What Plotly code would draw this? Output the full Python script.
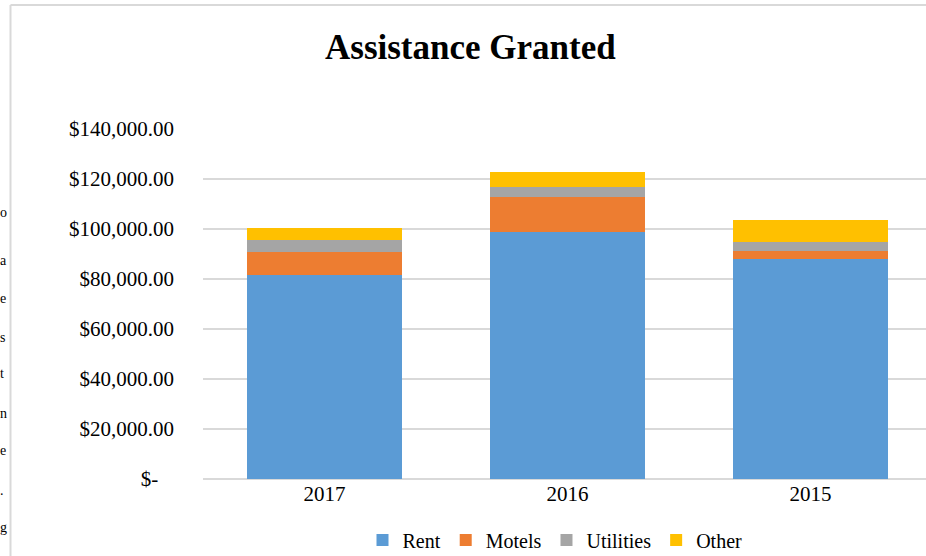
import plotly.graph_objects as go

years = ["2017", "2016", "2015"]
rent = [81500, 98700, 87900]
motels = [9300, 14300, 3300]
utilities = [4800, 3900, 3500]
other = [5000, 5900, 8800]

series_names = ["Rent", "Motels", "Utilities", "Other"]
series_values = [rent, motels, utilities, other]
colors = ["#5B9BD5", "#ED7D31", "#A5A5A5", "#FFC000"]

tick_vals = [0, 20000, 40000, 60000, 80000, 100000, 120000, 140000]
tick_text = ["$-\u00a0\u00a0\u00a0", "$20,000.00", "$40,000.00", "$60,000.00",
             "$80,000.00", "$100,000.00", "$120,000.00", "$140,000.00"]

# document characters visible at the left edge of the screenshot
edge_chars = ["o", "a", "e", "s", "t", "n", "e", ".", "g"]
edge_y_px = [212, 260, 298, 337, 373, 413, 450, 490, 527]

W, H = 926, 556
L, R, T, B = 203, 0, 129, 77
pw = W - L - R
ph = H - T - B

font = "Liberation Serif, Times New Roman, serif"

fig = go.Figure()
for name, vals, c in zip(series_names, series_values, colors):
    fig.add_trace(go.Bar(x=years, y=vals, name=name, marker_color=c,
                         marker_line_width=0))

def px_x(x):
    return (x - L) / pw

def px_y(y):
    return (H - B - y) / ph

annotations = [
    dict(text="<b>Assistance Granted</b>", x=px_x(470), y=px_y(47), xref="paper", yref="paper",
         showarrow=False, font=dict(family=font, size=35, color="#000000"),
         xanchor="center", yanchor="middle")
]
for ch, yp in zip(edge_chars, edge_y_px):
    annotations.append(dict(text=ch, x=px_x(-1), y=px_y(yp), xref="paper", yref="paper",
                            showarrow=False, xanchor="left", yanchor="middle",
                            borderpad=0,
                            font=dict(family=font, size=14, color="#000000")))

shapes = [
    dict(type="line", xref="paper", yref="paper", x0=px_x(10.5), x1=px_x(10.5),
         y0=px_y(5), y1=px_y(H + 5), line=dict(color="#d9d9d9", width=2)),
    dict(type="line", xref="paper", yref="paper", x0=px_x(10.5), x1=px_x(W + 5),
         y0=px_y(5), y1=px_y(5), line=dict(color="#d9d9d9", width=2)),
]

fig.update_layout(
    width=W, height=H,
    margin=dict(l=L, r=R, t=T, b=B, autoexpand=False),
    barmode="stack",
    bargap=0.36,
    plot_bgcolor="white",
    paper_bgcolor="white",
    font=dict(family=font, size=21, color="#000000"),
    showlegend=True,
    legend=dict(orientation="h", traceorder="normal", x=px_x(555), y=px_y(540),
                xanchor="center", yanchor="middle",
                font=dict(family=font, size=20, color="#000000"), itemwidth=30,
                tracegroupgap=0),
    annotations=annotations,
    shapes=shapes,
    xaxis=dict(range=[-0.5, 2.475], showgrid=False, showline=False, zeroline=False,
               ticks="", tickfont=dict(family=font, size=21)),
    yaxis=dict(range=[0, 140000], tickvals=tick_vals, ticktext=tick_text,
               showgrid=True, gridcolor="#d9d9d9", gridwidth=1.5,
               zeroline=True, zerolinecolor="#d9d9d9", zerolinewidth=1.5,
               showline=False, ticks="", ticklabelstandoff=28,
               tickfont=dict(family=font, size=21)),
)

fig.write_html("out.html", config={"displayModeBar": False},
               post_script="document.body.style.margin='0';document.body.style.overflow='hidden';")
